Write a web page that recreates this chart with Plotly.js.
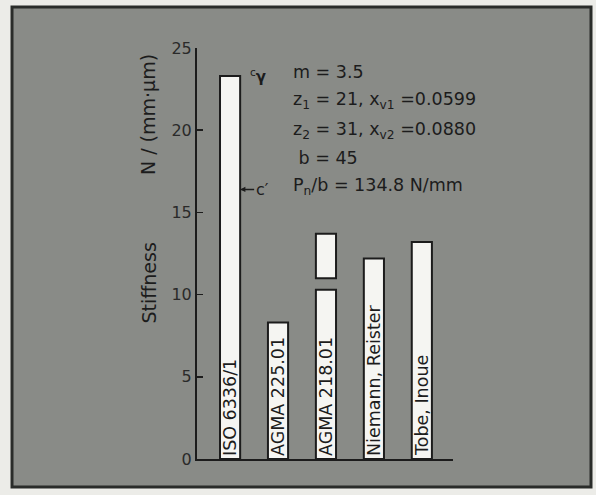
<!DOCTYPE html>
<html>
<head>
<meta charset="utf-8">
<script src="https://cdn.plot.ly/plotly-3.0.1.min.js"></script>
<style>html,body{margin:0;padding:0;background:#ecece8;}</style>
</head>
<body>
<div id="chart" style="width:596px;height:495px;"></div>
<script>
// ---- data ----
const categories = ["ISO 6336/1", "AGMA 225.01", "AGMA 218.01", "Niemann, Reister", "Tobe, Inoue"];
const stiffness = [23.3, 8.3, 10.3, 12.2, 13.2];
// AGMA 218.01 upper range segment
const rangeCategory = ["AGMA 218.01"];
const rangeLow = [11.0];
const rangeHigh = [13.7];
// c' marker on ISO bar
const cPrimeValue = 16.4;
const yTicks = [0, 5, 10, 15, 20, 25];
const infoLines = [
  "m = 3.5",
  "z<sub>1</sub> = 21, x<sub>v1</sub> =0.0599",
  "z<sub>2</sub> = 31, x<sub>v2</sub> =0.0880",
  " b = 45",
  "P<sub>n</sub>/b = 134.8 N/mm"
];

const FONT = "DejaVu Sans, sans-serif";
const INK = "#1c1c1c";

const barMain = {
  type: "bar",
  x: categories,
  y: stiffness,
  width: 0.42,
  marker: {color: "#f5f5f2", line: {color: INK, width: 2}},
  text: categories,
  textposition: "inside",
  insidetextanchor: "start",
  textangle: -90,
  constraintext: "none",
  textfont: {family: FONT, size: 17.5, color: INK},
  hoverinfo: "x+y",
  showlegend: false
};

const barRange = {
  type: "bar",
  x: rangeCategory,
  y: rangeHigh.map((h, i) => h - rangeLow[i]),
  base: rangeLow,
  width: 0.42,
  marker: {color: "#f5f5f2", line: {color: INK, width: 2}},
  hoverinfo: "x+y",
  showlegend: false
};

const annotations = [];
// y-axis title pieces
annotations.push({
  xref: "paper", yref: "paper", x: -0.191, y: 0.427, xanchor: "center", yanchor: "middle",
  text: "Stiffness", textangle: -90, showarrow: false,
  font: {family: FONT, size: 19, color: INK}
});
annotations.push({
  xref: "paper", yref: "paper", x: -0.191, y: 0.837, xanchor: "center", yanchor: "middle",
  text: "N / (mm·µm)", textangle: -90, showarrow: false,
  font: {family: FONT, size: 19, color: INK}
});
// parameter block
const infoY = [23.55, 21.78, 20.01, 18.31, 16.55];
infoLines.forEach((t, i) => {
  annotations.push({
    xref: "x", yref: "y", x: 1.28, y: infoY[i], xanchor: "left", yanchor: "middle",
    text: t, showarrow: false,
    font: {family: FONT, size: 17.5, color: INK}
  });
});
// c_gamma label
annotations.push({
  xref: "x", yref: "y", x: 0.38, y: stiffness[0], xanchor: "left", yanchor: "middle",
  text: "<sup>c</sup><b>γ</b>", showarrow: false,
  font: {family: FONT, size: 15, color: INK}
});
// c' arrow
annotations.push({
  xref: "x", yref: "y", x: 0.21, y: cPrimeValue,
  text: "c′", showarrow: true, ax: 14, ay: 0, xanchor: "left",
  arrowhead: 2, arrowsize: 0.7, arrowwidth: 1.5, arrowcolor: INK,
  font: {family: FONT, size: 16, color: INK}
});

const layout = {
  width: 596, height: 495,
  margin: {l: 197, r: 143, t: 48, b: 36},
  paper_bgcolor: "#ecece8",
  plot_bgcolor: "rgba(0,0,0,0)",
  font: {family: FONT, color: INK},
  barmode: "overlay",
  xaxis: {
    type: "category",
    range: [-0.69, 4.65],
    showticklabels: false, ticks: "",
    showgrid: false, zeroline: false,
    showline: true, linecolor: INK, linewidth: 2,
    fixedrange: true
  },
  yaxis: {
    range: [0, 25],
    tickvals: yTicks,
    ticks: "inside", ticklen: 6, tickwidth: 1.5, tickcolor: INK,
    tickfont: {family: FONT, size: 16, color: "#2a2a2a"},
    showgrid: false, zeroline: false,
    showline: true, linecolor: INK, linewidth: 2,
    fixedrange: true
  },
  shapes: [{
    type: "rect", xref: "paper", yref: "paper", layer: "below",
    x0: -185/256, x1: 394/256, y0: -28/411, y1: 452/411,
    fillcolor: "#898b87",
    line: {color: "#2a2c2a", width: 3}
  }],
  annotations: annotations
};

Plotly.newPlot("chart", [barMain, barRange], layout, {displayModeBar: false, staticPlot: true});
</script>
</body>
</html>
